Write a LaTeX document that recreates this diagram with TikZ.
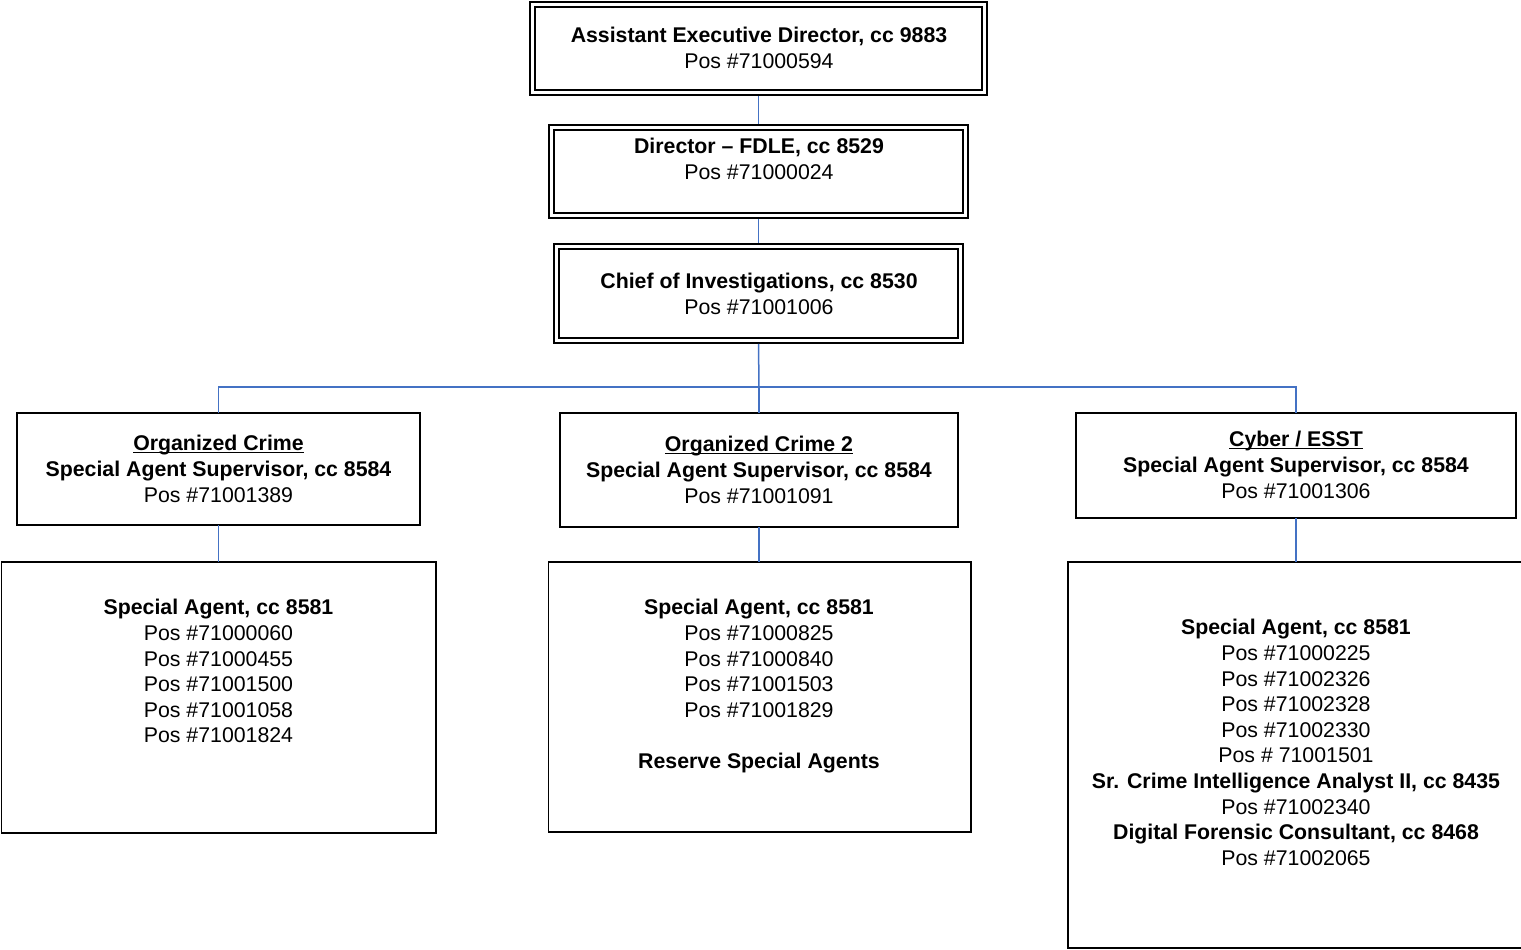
\documentclass[tikz,border=0pt]{standalone}
\usepackage{fontspec}
\setmainfont{Liberation Sans}
\definecolor{linkblue}{RGB}{68,114,196}
\newsavebox\hdulbox
% underlined heading with an Arial-like underline position
\newcommand\hdul[1]{\sbox\hdulbox{#1}\rlap{\rule[-2.3pt]{\wd\hdulbox}{1.5pt}}\usebox\hdulbox}
\begin{document}
\begin{tikzpicture}[x=1pt,y=-1pt,
  every node/.style={font=\fontsize{21.3}{25.6}\selectfont},
  dbox/.style={draw, double, double distance=3.2pt, line width=1.8pt,
    inner sep=0pt, outer sep=3.4pt},
  plainbox/.style={draw, line width=1.8pt, inner sep=0pt, outer sep=0pt},
  conn/.style={draw=linkblue, line width=1.5pt},
  txt/.style={align=center, inner sep=0pt, anchor=north}]
\useasboundingbox (0,0) rectangle (1521,950);

% boxes
\node[dbox, minimum width=452pt, minimum height=88pt] (aed) at (758.5,48.5) {};
\node[dbox, minimum width=414pt, minimum height=88pt] (dir) at (758.5,171.5) {};
\node[dbox, minimum width=404pt, minimum height=94pt] (chief) at (758.5,293.5) {};
\node[plainbox, minimum width=403pt, minimum height=112pt] (oc) at (218.5,469) {};
\node[plainbox, minimum width=398pt, minimum height=114pt] (oc2) at (759,470) {};
\node[plainbox, minimum width=440pt, minimum height=105pt] (cyber) at (1296,465.5) {};
\node[plainbox, minimum width=434.5pt, minimum height=271pt] (saL) at (218.75,697.5) {};
\node[plainbox, minimum width=422.5pt, minimum height=270pt] (saM) at (759.75,697) {};
\node[plainbox, minimum width=472pt, minimum height=386pt] (saR) at (1304,755) {};

% texts
\node[txt] (aedT) at (759,27.3) {\textbf{Assistant Executive Director, cc 9883}\\Pos \#71000594};
\node[txt] (dirT) at (759,138.3) {\textbf{Director \textendash{} FDLE, cc 8529}\\Pos \#71000024};
\node[txt] (chiefT) at (759,273.3) {\textbf{Chief of Investigations, cc 8530}\\Pos \#71001006};
\node[txt] (ocT) at (218.5,435.3) {\textbf{\hdul{Organized Crime}}\\\textbf{Special Agent Supervisor, cc 8584}\\Pos \#71001389};
\node[txt] (oc2T) at (759,436.3) {\textbf{\hdul{Organized Crime 2}}\\\textbf{Special Agent Supervisor, cc 8584}\\Pos \#71001091};
\node[txt] (cyberT) at (1296,431.3) {\textbf{\hdul{Cyber / ESST}}\\\textbf{Special Agent Supervisor, cc 8584}\\Pos \#71001306};
\node[txt] (saLT) at (218.5,599.3) {\textbf{Special Agent, cc 8581}\\Pos \#71000060\\Pos \#71000455\\Pos \#71001500\\Pos \#71001058\\Pos \#71001824};
\node[txt] (saMT) at (759,599.3) {\textbf{Special Agent, cc 8581}\\Pos \#71000825\\Pos \#71000840\\Pos \#71001503\\Pos \#71001829\\\mbox{}\\\textbf{Reserve Special Agents}};
\node[txt] (saRT) at (1296,619.3) {\textbf{Special Agent, cc 8581}\\Pos \#71000225\\Pos \#71002326\\Pos \#71002328\\Pos \#71002330\\Pos \# 71001501\\\textbf{Sr. Crime Intelligence Analyst II, cc 8435}\\Pos \#71002340\\\textbf{Digital Forensic Consultant, cc 8468}\\Pos \#71002065};

% reporting lines
\coordinate (bus) at (759,387);
\draw[conn] (aed.south) -- (dir.north);
\draw[conn] (dir.south) -- (chief.north);
\draw[conn] (chief.south) -- (bus);
\draw[conn] (oc.north) |- (bus) -| (cyber.north);
\draw[conn] (bus) -- (oc2.north);
\draw[conn] (oc.south) -- (oc.south |- saL.north);
\draw[conn] (oc2.south) -- (oc2.south |- saM.north);
\draw[conn] (cyber.south) -- (cyber.south |- saR.north);
\end{tikzpicture}
\end{document}
